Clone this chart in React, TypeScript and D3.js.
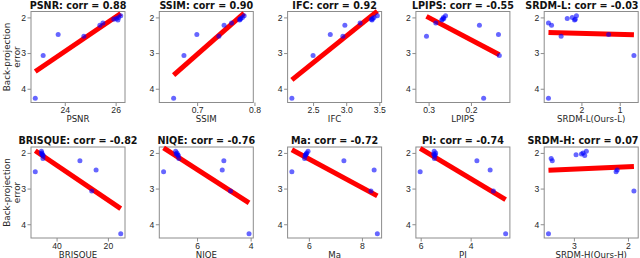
import { useEffect, useRef } from "react"
import * as d3 from "d3"

// back-projection error of each image (shared y values)
const backProjError = [4.27, 3.07, 2.48, 2.53, 2.22, 2.16, 2.05, 2.03, 2.07, 2.0, 1.95]

// metric values, same order as backProjError
const psnr = [22.84, 23.15, 23.74, 24.75, 25.38, 25.5, 25.93, 26.03, 26.09, 26.12, 26.2]
const ssim = [0.659, 0.677, 0.6995, 0.738, 0.747, 0.76, 0.775, 0.776, 0.774, 0.779, 0.782]
const ifc = [2.18, 2.5, 2.76, 2.95, 2.98, 3.21, 3.38, 3.4, 3.39, 3.42, 3.47]
const lpips = [0.17, 0.133, 0.135, 0.305, 0.18, 0.283, 0.267, 0.264, 0.269, 0.265, 0.26]
const srdmL = [2.86, 0.63, 1.29, 2.53, 2.78, 2.86, 2.16, 2.37, 2.18, 2.24, 2.13]
const brisque = [15.0, 26.3, 24.6, 48.3, 30.9, 45.3, 45.5, 45.8, 45.2, 45.7, 45.9]
const niqe = [4.06, 4.75, 5.06, 7.25, 5.0, 6.68, 6.72, 6.78, 6.7, 6.75, 6.8]
const ma = [8.58, 8.34, 8.46, 5.36, 7.32, 5.84, 5.88, 5.9, 5.86, 5.92, 5.97]
const pi = [2.6, 3.09, 3.22, 6.02, 3.75, 5.45, 5.42, 5.48, 5.44, 5.4, 5.46]
const srdmH = [3.47, 1.89, 2.2, 2.22, 3.4, 3.42, 2.96, 2.86, 2.8, 2.83, 2.77]

const metricNames = ["PSNR", "SSIM", "IFC", "LPIPS", "SRDM-L", "BRISQUE", "NIQE", "Ma", "PI", "SRDM-H"]
const axisLabels = ["PSNR", "SSIM", "IFC", "LPIPS", "SRDM-L(Ours-L)", "BRISQUE", "NIQE", "Ma", "PI", "SRDM-H(Ours-H)"]
const corrLabels = ["0.88", "0.90", "0.92", "-0.55", "-0.03", "-0.82", "-0.76", "-0.72", "-0.74", "0.07"]
const xValues = [psnr, ssim, ifc, lpips, srdmL, brisque, niqe, ma, pi, srdmH]
const xTicks = [[24, 26], [0.7, 0.8], [2.5, 3.0, 3.5], [0.3, 0.2], [2, 1], [40, 20], [6, 4], [6, 8], [6, 4], [3, 2]]
const reversed = [false, false, false, true, true, true, true, false, true, true]
// axis limits where the figure did not use the default 5% padding
const xLimits: Record<number, [number, number]> = { 1: [0.634, 0.798], 3: [0.108, 0.33] }
const yTicks = [2, 3, 4]
const yLimits: [number, number] = [1.834, 4.386]

export default function App() {
  const svgRef = useRef<SVGSVGElement>(null)

  useEffect(() => {
    const svg = d3.select(svgRef.current)
    svg.selectAll("*").remove()

    const width = 94
    const height = 91
    const rowTops = [11.5, 147]
    const svgWidth = 640

    xValues.forEach((xs, i) => {
      const row = Math.floor(i / 5)
      const col = i % 5
      const left = 31 + col * 128.3
      const top = rowTops[row]
      const g = svg.append("g").attr("transform", `translate(${left},${top})`)

      const ext = d3.extent(xs) as [number, number]
      const pad = (ext[1] - ext[0]) * 0.05
      const lim = xLimits[i] ?? [ext[0] - pad, ext[1] + pad]
      const x = d3
        .scaleLinear()
        .domain(reversed[i] ? [lim[1], lim[0]] : lim)
        .range([0, width])
      const y = d3.scaleLinear().domain(yLimits).range([0, height])

      // frame
      g.append("rect")
        .attr("width", width)
        .attr("height", height)
        .attr("fill", "white")
        .attr("stroke", "#8c8c8c")
        .attr("stroke-width", 1)

      // least squares fit
      const mx = d3.mean(xs) as number
      const my = d3.mean(backProjError) as number
      const sxy = d3.sum(xs, (v, k) => (v - mx) * (backProjError[k] - my))
      const sxx = d3.sum(xs, (v) => (v - mx) * (v - mx))
      const slope = sxy / sxx
      const fit = ext.map((v) => ({ x: v, y: my + slope * (v - mx) }))
      const line = d3
        .line<{ x: number; y: number }>()
        .x((d) => x(d.x))
        .y((d) => y(d.y))
      g.append("path")
        .datum(fit)
        .attr("fill", "none")
        .attr("stroke", "red")
        .attr("stroke-width", 5)
        .attr("d", line)

      // points
      g.selectAll(".dot")
        .data(xs)
        .enter()
        .append("circle")
        .attr("class", "dot")
        .attr("cx", (d) => x(d))
        .attr("cy", (d, k) => y(backProjError[k]))
        .attr("r", 2.5)
        .attr("fill", "blue")
        .attr("fill-opacity", 0.6)

      // axes
      const fmt = xTicks[i].some((t) => !Number.isInteger(t)) ? d3.format(".1f") : d3.format("d")
      const xAxis = g
        .append("g")
        .attr("transform", `translate(0,${height})`)
        .call(d3.axisBottom(x).tickValues(xTicks[i]).tickSize(3.5).tickPadding(1).tickFormat((d) => fmt(d as number)))
      const yAxis = g
        .append("g")
        .call(d3.axisLeft(y).tickValues(yTicks).tickSize(3.5).tickPadding(1.5).tickFormat(d3.format("d")))
      ;[xAxis, yAxis].forEach((a) => {
        a.select(".domain").remove()
        a.selectAll("line").attr("stroke", "#8c8c8c")
        a.selectAll("text").attr("fill", "#262626").style("font-size", "8.6px")
      })

      // x label
      g.append("text")
        .attr("x", width / 2)
        .attr("y", height + 19.5)
        .attr("text-anchor", "middle")
        .attr("fill", "#262626")
        .style("font-size", "8.6px")
        .text(axisLabels[i])

      // title, kept inside the picture on the last column
      const title = g
        .append("text")
        .attr("x", width / 2)
        .attr("y", -3)
        .attr("text-anchor", "middle")
        .attr("fill", "#111")
        .style("font-size", "9.6px")
        .style("font-weight", "bold")
        .text(`${metricNames[i]}: corr = ${corrLabels[i]}`)
      const tw = (title.node() as SVGTextElement).getComputedTextLength()
      const overflow = left + width / 2 + tw / 2 - (svgWidth - 1.5)
      if (overflow > 0) title.attr("x", width / 2 - overflow)

      // y label on first column
      if (col === 0) {
        const lab = g
          .append("text")
          .attr("transform", `translate(${-21},${height / 2}) rotate(-90)`)
          .attr("text-anchor", "middle")
          .attr("fill", "#262626")
          .style("font-size", "8.8px")
        lab.append("tspan").attr("x", 0).attr("dy", "0").text("Back-projection")
        lab.append("tspan").attr("x", 0).attr("dy", "1.15em").text("error")
      }
    })
  }, [])

  return (
    <svg
      ref={svgRef}
      width={640}
      height={258}
      style={{ position: "absolute", left: 0, top: 0, fontFamily: "'DejaVu Sans', sans-serif", background: "white" }}
    />
  )
}
